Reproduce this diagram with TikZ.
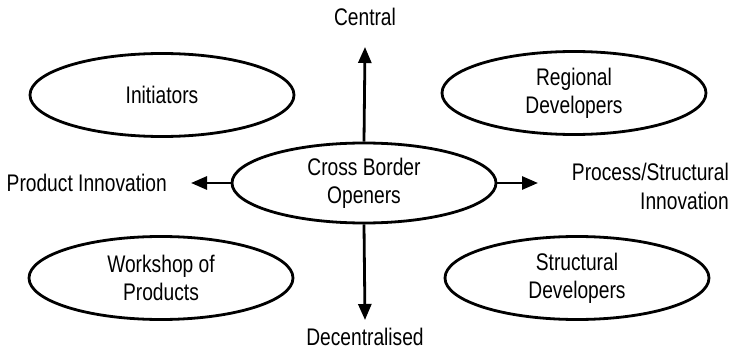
\documentclass[tikz,border=0pt]{standalone}
\usepackage{fontspec}
\setmainfont[FakeStretch=0.8]{Liberation Sans}
\usetikzlibrary{shapes.geometric,arrows.meta}
\begin{document}
\begin{tikzpicture}[x=1pt,y=-1pt,
  oval/.style={ellipse,draw,line width=2.8pt,minimum width=264pt,minimum height=83pt,inner sep=0pt,align=center,font=\fontsize{24}{28}\selectfont},
  lbl/.style={inner sep=0pt,align=center,font=\fontsize{24}{29}\selectfont},
  axis/.style={line width=2.8pt,-{Triangle[length=16pt,width=13pt]}}]
\useasboundingbox (0,0) rectangle (732,353);
\node[oval,minimum height=80pt] (c) at (364,183) {Cross Border\\Openers};
\node[oval] (ini) at (162,95) {Initiators};
\node[oval] (reg) at (574,93) {Regional\\Developers};
\node[oval] (ws) at (161,278) {Workshop of\\Products};
\node[oval] (sd) at (577,278) {Structural\\Developers};
\node[lbl] (cen) at (365,17) {Central};
\node[lbl] (dec) at (365,337) {Decentralised};
\node[lbl,anchor=east] (pi) at (167,183) {Product Innovation};
\node[lbl,anchor=east,align=right] (ps) at (729,186) {Process/Structural\\Innovation};
\coordinate (tN) at (365,47);
\coordinate (tS) at (365,320);
\coordinate (tW) at (191,183);
\coordinate (tE) at (538,183);
\draw[axis] (c.north) -- (tN);
\draw[axis] (c.south) -- (tS);
\draw[axis] (c.west) -- (tW);
\draw[axis] (c.east) -- (tE);
\end{tikzpicture}
\end{document}
